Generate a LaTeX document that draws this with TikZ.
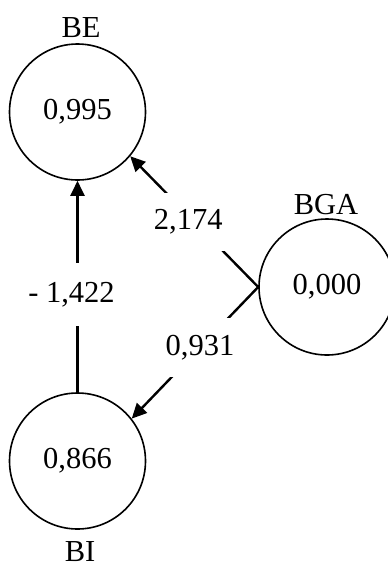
\documentclass[tikz,border=0pt]{standalone}
\usepackage{fontspec}
\setmainfont{Liberation Serif}
\usetikzlibrary{arrows.meta}
\begin{document}
\begin{tikzpicture}[x=1pt,y=-1pt,
  every node/.style={font=\fontsize{30.5}{36}\selectfont},
  latent/.style={circle,draw,line width=1.6pt,minimum size=136pt,inner sep=0pt},
  conn/.style={line width=2.4pt,-{Triangle[length=15pt,width=14pt]}},
  coef/.style={fill=white,inner xsep=2pt}]
\clip (0,0) rectangle (388,566);
\useasboundingbox (0,0) rectangle (388,566);
\node[latent] (be) at (77.5,112) {0,995};
\node[latent] (bi) at (77.5,461) {0,866};
\node[latent] (bga) at (327,287) {0,000};
\node[anchor=base] (belab) at (81,37) {BE};
\node[anchor=base] (bgalab) at (326,214) {BGA};
\node[anchor=base,inner sep=0pt] (bilab) at (80,561) {BI};
\draw[conn] (bi.north) -- node[coef,pos=0.46,minimum height=63pt,xshift=-6pt] (c1) {- 1,422} (be.south);
\draw[conn] (bga.west) -- node[coef,pos=0.5,minimum height=58pt,minimum width=74pt,xshift=-6pt] (c2) {2,174} (be.-40);
\draw[conn] (bga.west) -- node[coef,pos=0.46,minimum height=59pt,minimum width=74pt] (c3) {0,931} (bi.38);
\end{tikzpicture}
\end{document}
